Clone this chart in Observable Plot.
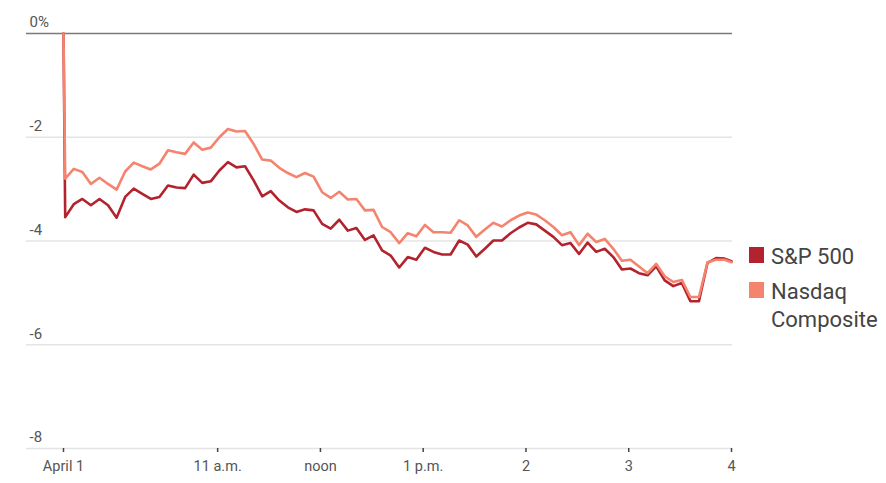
<!DOCTYPE html>
<html>
<head>
<meta charset="utf-8">
<script src="https://cdn.jsdelivr.net/npm/d3@7"></script>
<script src="https://cdn.jsdelivr.net/npm/@observablehq/plot@0.6"></script>
<style>
  html, body { margin: 0; padding: 0; background: #fff; }
  #wrap { position: relative; width: 886px; height: 483px; font-family: "Roboto", sans-serif; }
  #legend { position: absolute; left: 749px; top: 243px; color: #444; font-size: 22px; line-height: 28px; }
  .item { display: flex; align-items: flex-start; }
  .sw { width: 15px; height: 16px; margin-right: 7px; margin-top: 4px; flex: none; }
</style>
</head>
<body>
<div id="wrap"><div id="legend"></div></div>
<script>
const times = ["9:30","9:31","9:36","9:41","9:46","9:51","9:56","10:01","10:06","10:11","10:16","10:21","10:26","10:31","10:36","10:41","10:46","10:51","10:56","11:01","11:06","11:11","11:16","11:21","11:26","11:31","11:36","11:41","11:46","11:51","11:56","12:01","12:06","12:11","12:16","12:21","12:26","12:31","12:36","12:41","12:46","12:51","12:56","13:01","13:06","13:11","13:16","13:21","13:26","13:31","13:36","13:41","13:46","13:51","13:56","14:01","14:06","14:11","14:16","14:21","14:26","14:31","14:36","14:41","14:46","14:51","14:56","15:01","15:06","15:11","15:16","15:21","15:26","15:31","15:36","15:41","15:46","15:51","15:56","16:00"];
const nasdaq = [0,-2.80,-2.61,-2.67,-2.90,-2.78,-2.90,-3.01,-2.66,-2.49,-2.56,-2.62,-2.51,-2.25,-2.29,-2.32,-2.10,-2.24,-2.20,-2.00,-1.84,-1.89,-1.88,-2.13,-2.43,-2.45,-2.59,-2.69,-2.77,-2.69,-2.76,-3.06,-3.17,-3.05,-3.20,-3.19,-3.41,-3.40,-3.73,-3.83,-4.04,-3.85,-3.91,-3.69,-3.83,-3.83,-3.84,-3.60,-3.70,-3.92,-3.78,-3.65,-3.72,-3.60,-3.51,-3.45,-3.49,-3.60,-3.73,-3.89,-3.83,-4.08,-3.86,-4.02,-3.96,-4.15,-4.38,-4.36,-4.49,-4.62,-4.44,-4.68,-4.79,-4.75,-5.08,-5.08,-4.41,-4.36,-4.36,-4.41];
const sp500 = [0,-3.54,-3.29,-3.19,-3.31,-3.19,-3.31,-3.55,-3.15,-2.99,-3.09,-3.19,-3.15,-2.93,-2.97,-2.98,-2.72,-2.88,-2.85,-2.64,-2.48,-2.58,-2.56,-2.83,-3.14,-3.04,-3.22,-3.35,-3.44,-3.39,-3.41,-3.67,-3.76,-3.59,-3.80,-3.75,-3.98,-3.89,-4.18,-4.28,-4.51,-4.31,-4.36,-4.13,-4.21,-4.26,-4.26,-3.99,-4.07,-4.30,-4.15,-3.99,-3.99,-3.85,-3.74,-3.65,-3.68,-3.80,-3.92,-4.08,-4.04,-4.25,-4.03,-4.21,-4.15,-4.31,-4.55,-4.53,-4.62,-4.66,-4.49,-4.76,-4.87,-4.81,-5.16,-5.16,-4.42,-4.33,-4.34,-4.39];
const seriesNames = ["S&P 500", "Nasdaq Composite"];
const seriesColors = ["#b3232e", "#f5846f"];
const yTicks = [0, -2, -4, -6, -8];
const yTickLabels = ["0%", "-2", "-4", "-6", "-8"];
const xTickTimes = ["9:30","11:00","12:00","13:00","14:00","15:00","16:00"];
const xTickLabels = ["April 1","11 a.m.","noon","1 p.m.","2","3","4"];

const toDate = s => { const [h, m] = s.split(":").map(Number); return new Date(Date.UTC(2025, 3, 1, h, m)); };
const rows = [];
times.forEach((t, i) => {
  rows.push({time: toDate(t), value: sp500[i], series: seriesNames[0]});
});
times.forEach((t, i) => {
  rows.push({time: toDate(t), value: nasdaq[i], series: seriesNames[1]});
});
const xTicks = xTickTimes.map(toDate);
const labelOf = new Map(xTicks.map((d, i) => [+d, xTickLabels[i]]));
const yLab = new Map(yTicks.map((v, i) => [v, yTickLabels[i]]));

const chart = Plot.plot({
  width: 886,
  height: 483,
  marginLeft: 63,
  marginRight: 155,
  marginTop: 33,
  marginBottom: 35,
  style: {fontFamily: 'Roboto, sans-serif', color: "#555", background: "#fff"},
  x: {type: "utc", domain: [toDate("9:30"), toDate("16:00")], axis: null},
  y: {domain: [-8, 0], axis: null},
  color: {domain: seriesNames, range: seriesColors},
  marks: [
    Plot.ruleY(yTicks.filter(v => v !== 0), {stroke: "#e4e4e4", strokeWidth: 1.5, insetLeft: -37, insetRight: -1}),
    Plot.ruleY([0], {stroke: "#7a7a7a", strokeWidth: 1.6, insetLeft: -37, insetRight: -1}),
    Plot.text(yTicks, {y: d => d, text: d => yLab.get(d), frameAnchor: "left", dx: -34, dy: -11, textAnchor: "start", fontSize: 15, fill: "#555"}),
    Plot.axisX(xTicks, {tickFormat: d => labelOf.get(+d), tickSize: 4, tickPadding: 8, fontSize: 14.5, stroke: "#444", strokeWidth: 1.5, fill: "#555", label: null}),
    Plot.line(rows, {x: "time", y: "value", z: "series", stroke: "series", strokeWidth: 2.6, strokeLinejoin: "round"})
  ]
});
document.getElementById("wrap").prepend(chart);

const legend = document.getElementById("legend");
seriesNames.forEach((name, i) => {
  const item = document.createElement("div");
  item.className = "item";
  item.style.marginBottom = i === 0 ? "7px" : "0";
  const sw = document.createElement("div");
  sw.className = "sw";
  sw.style.background = seriesColors[i];
  const tx = document.createElement("div");
  tx.innerHTML = name === "Nasdaq Composite" ? "Nasdaq<br>Composite" : name;
  item.append(sw, tx);
  legend.append(item);
});
</script>
</body>
</html>
